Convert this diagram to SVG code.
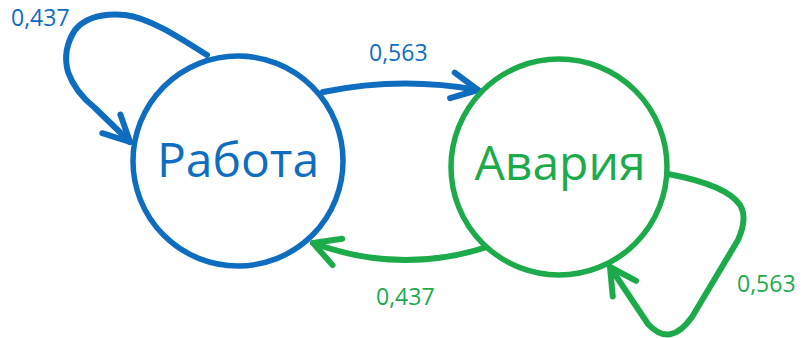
<svg xmlns="http://www.w3.org/2000/svg" width="805" height="338" viewBox="0 0 805 338">
  <style>
    .blue { stroke: #0F6DBF; }
    .green { stroke: #1DAA4A; }
    .node { fill: #ffffff; stroke-width: 5.5; }
    .edge { fill: none; stroke-width: 6; stroke-linecap: round; stroke-linejoin: round; }
    .title { font-family: "Open Sans", "Noto Sans", "Liberation Sans", sans-serif; font-size: 48px; text-anchor: middle; }
    .lbl { font-family: "Open Sans", "Noto Sans", "Liberation Sans", sans-serif; font-size: 23px; }
  </style>
  <defs>
    <marker id="arrB" markerUnits="userSpaceOnUse" viewBox="-32 -20 40 40" markerWidth="40" markerHeight="40" refX="0" refY="0" orient="auto">
      <path d="M -26 -13 L 0 0 L -26 13" fill="none" stroke="#0F6DBF" stroke-width="6" stroke-linecap="round" stroke-linejoin="round"/>
    </marker>
    <marker id="arrG" markerUnits="userSpaceOnUse" viewBox="-32 -20 40 40" markerWidth="40" markerHeight="40" refX="0" refY="0" orient="auto">
      <path d="M -26 -14 L 0 0 L -26 14" fill="none" stroke="#1DAA4A" stroke-width="6" stroke-linecap="round" stroke-linejoin="round"/>
    </marker>
  </defs>

  <g id="connectors">
    <path id="loop-rabota" class="edge blue" d="M 207 55 C 180 38 150 18 125 15 Q 90 12 75 30 Q 62 50 68 72 Q 75 92 95 108 L 130 142" marker-end="url(#arrB)"/>
    <path id="rabota-avaria" class="edge blue" d="M 323 92 Q 400 76 478 90" marker-end="url(#arrB)"/>
    <path id="avaria-rabota" class="edge green" d="M 487 247 Q 400 275 313 243" marker-end="url(#arrG)"/>
    <path id="loop-avaria" class="edge green" d="M 668 174 C 700 180 730 190 740 205 Q 748 218 738 240 L 692 317 Q 670 348 648 324 L 610 267" marker-end="url(#arrG)"/>
  </g>

  <g id="node-rabota">
    <circle class="node blue" cx="238" cy="161" r="105"/>
    <text class="title" x="238" y="177" fill="#0F6DBF">Работа</text>
  </g>
  <g id="node-avaria">
    <circle class="node green" cx="559" cy="167" r="108"/>
    <text class="title" x="560" y="180" fill="#1DAA4A">Авария</text>
  </g>

  <g id="labels">
    <text class="lbl" x="11" y="26" fill="#0F6DBF">0,437</text>
    <text class="lbl" x="369" y="61" fill="#0F6DBF">0,563</text>
    <text class="lbl" x="376" y="305" fill="#1DAA4A">0,437</text>
    <text class="lbl" x="737" y="292" fill="#1DAA4A">0,563</text>
  </g>
</svg>
